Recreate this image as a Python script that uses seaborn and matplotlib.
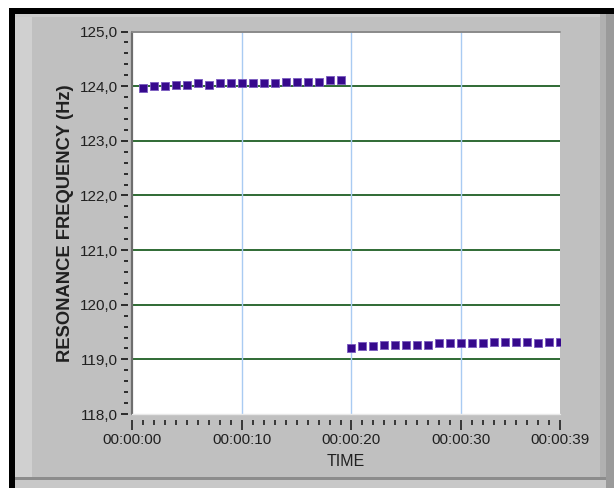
import matplotlib
matplotlib.use("Agg")
import matplotlib.pyplot as plt
from matplotlib.patches import Rectangle
from matplotlib.ticker import FixedLocator, MultipleLocator, FuncFormatter
import seaborn as sns
import pandas as pd

# ---- data ----
seconds_a = [1, 2, 3, 4, 5, 6, 7, 8, 9, 10, 11, 12, 13, 14, 15, 16, 17, 18, 19]
freq_a = [123.97, 124.00, 124.00, 124.03, 124.03, 124.06, 124.02, 124.05, 124.05, 124.05,
          124.05, 124.05, 124.05, 124.08, 124.08, 124.08, 124.08, 124.11, 124.11]
seconds_b = [20, 21, 22, 23, 24, 25, 26, 27, 28, 29, 30, 31, 32, 33, 34, 35, 36, 37, 38, 39]
freq_b = [119.21, 119.24, 119.24, 119.27, 119.27, 119.27, 119.27, 119.27, 119.30, 119.30,
          119.30, 119.30, 119.30, 119.32, 119.32, 119.32, 119.32, 119.30, 119.32, 119.32]

x_tick_values = [0, 10, 20, 30, 39]
x_tick_labels = ["00:00:00", "00:00:10", "00:00:20", "00:00:30", "00:00:39"]
y_tick_values = [118, 119, 120, 121, 122, 123, 124, 125]
y_label = "RESONANCE FREQUENCY (Hz)"
x_label = "TIME"

df = pd.DataFrame({
    "time": seconds_a + seconds_b,
    "freq": freq_a + freq_b,
})

# ---- figure ----
sns.set_theme(style="white")
plt.rcParams["font.family"] = ["Liberation Sans", "DejaVu Sans"]

W, H = 614, 488
fig = plt.figure(figsize=(W / 100, H / 100), dpi=100)
fig.patch.set_facecolor("white")


def px_rect(x0, y0, x1, y1, color):
    fig.patches.append(Rectangle((x0 / W, 1 - y1 / H), (x1 - x0) / W, (y1 - y0) / H,
                                 transform=fig.transFigure, facecolor=color,
                                 edgecolor="none", zorder=-10))


# panel framing
px_rect(9, 8, W, H, "#000000")
px_rect(15, 14, W, H, "#c0c0c0")
px_rect(15, 14, 32, 478, "#d0d0d0")
px_rect(15, 14, W, 17, "#cccccc")
px_rect(600, 14, 606, H, "#b0b0b0")
px_rect(606, 14, W, H, "#9a9a9a")
px_rect(15, 477, 606, 480, "#8c8c8c")
px_rect(15, 480, 606, H, "#c8c8c8")

left, right, top, bottom = 132, 560, 31.5, 414
ax = fig.add_axes([left / W, 1 - bottom / H, (right - left) / W, (bottom - top) / H])
ax.set_facecolor("white")

ax.set_xlim(0, 39)
ax.set_ylim(118, 125)

# grid
for yv in y_tick_values[1:-1]:
    ax.axhline(yv, color="#2f6a34", lw=1.4, zorder=1)
for xv in x_tick_values[1:-1]:
    ax.axvline(xv, color="#a9cbf2", lw=1.0, zorder=1)

sns.scatterplot(data=df, x="time", y="freq", marker="s", s=30, color="#36098c",
                edgecolor="#7a5cc0", linewidth=0.6, ax=ax, zorder=3, legend=False)

# spines
for s in ["top", "right", "bottom", "left"]:
    ax.spines[s].set_visible(False)
ax.plot([0, 0], [0, 1], transform=ax.transAxes, color="#6e6e6e", lw=1.6, clip_on=False, zorder=4)
ax.plot([0, 1], [1, 1], transform=ax.transAxes, color="#8a8a8a", lw=1.4, clip_on=False, zorder=4)
ax.plot([0, 1], [0, 0], transform=ax.transAxes, color="#e8e8e8", lw=1.0, clip_on=False, zorder=4)

# ticks
ax.xaxis.set_major_locator(FixedLocator(x_tick_values))
ax.set_xticklabels(x_tick_labels)
ax.xaxis.set_minor_locator(MultipleLocator(1))
ax.yaxis.set_major_locator(FixedLocator(y_tick_values))
ax.yaxis.set_minor_locator(MultipleLocator(0.2))
ax.yaxis.set_major_formatter(FuncFormatter(lambda v, p: f"{v:.1f}".replace(".", ",")))

ax.tick_params(axis="x", which="major", direction="out", length=7, width=1.2,
               color="#202020", pad=3, labelsize=11, labelcolor="#202020", bottom=True)
ax.tick_params(axis="x", which="minor", direction="out", length=3.5, width=1.2,
               color="#202020", bottom=True)
ax.tick_params(axis="y", which="major", direction="out", length=5, width=1.3,
               color="#202020", pad=2, labelsize=11, labelcolor="#202020", left=True)
ax.tick_params(axis="y", which="minor", direction="out", length=3, width=1.3,
               color="#202020", left=True)
ax.spines["left"].set_position(("outward", 3))
ax.spines["bottom"].set_position(("outward", 4))

ax.set_xlabel(x_label, fontsize=11.5, color="#202020", labelpad=5)
ax.set_ylabel(y_label, fontsize=13.2, fontweight="bold", color="#202020", labelpad=4)

fig.savefig("out.png", dpi=100, facecolor=fig.get_facecolor())
